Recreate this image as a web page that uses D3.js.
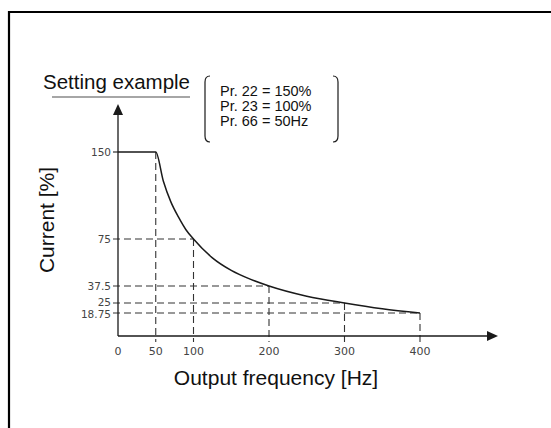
<!DOCTYPE html>
<html><head><meta charset="utf-8">
<script src="https://cdn.jsdelivr.net/npm/d3@7"></script>
<style>body{margin:0;background:#fff}svg{display:block}</style>
</head><body>
<script>
// Data
const freq = [0, 50, 60, 70, 80, 90, 100, 125, 150, 175, 200, 250, 300, 350, 400];
const current = [150, 150, 125, 107, 94, 83, 75, 60, 50, 43, 37.5, 30, 25, 21.4, 18.75];
const xTicks = [0, 50, 100, 200, 300, 400];
const yTicks = [150, 75, 37.5, 25, 18.75];
const guideFreq = [50, 100, 200, 300, 400];
const guideCurrent = [150, 75, 37.5, 25, 18.75];
const settings = ["Pr. 22 = 150%", "Pr. 23 = 100%", "Pr. 66 = 50Hz"];

const W = 551, H = 428;
const svg = d3.select("body").append("svg").attr("width", W).attr("height", H);
const font = "Liberation Sans, Arial, sans-serif";
const tickFont = "DejaVu Sans, sans-serif";
const ink = "#1a1a1a";

// frame
svg.append("path").attr("d", `M9,${H+5} L9,12 L${W+5},12`).attr("fill","none").attr("stroke","#000").attr("stroke-width",2.2);

const x = d3.scaleLinear().domain([0, 400]).range([118, 420]);
// schematic (non-uniform) vertical scale as drawn in the reference
const y = d3.scaleLinear().domain([0, 18.75, 25, 37.5, 75, 150]).range([336, 313, 303, 286, 239, 152]);
const axisY = y(0);

// guides
const gG = svg.append("g").attr("stroke", "#333").attr("stroke-width", 1.1).attr("stroke-dasharray", "7,4").attr("fill","none");
guideFreq.forEach((f, i) => {
  gG.append("line").attr("x1", x(f)).attr("x2", x(f)).attr("y1", y(guideCurrent[i])).attr("y2", axisY + 6);
  if (i > 0) gG.append("line").attr("x1", x(0) - 5).attr("x2", x(f)).attr("y1", y(guideCurrent[i])).attr("y2", y(guideCurrent[i]));
});
// solid tick for 150
svg.append("line").attr("x1", x(0)-5).attr("x2", x(0)).attr("y1", y(150)).attr("y2", y(150)).attr("stroke", ink).attr("stroke-width", 1.1);

// axes lines
svg.append("line").attr("x1", x(0)).attr("x2", 488).attr("y1", axisY).attr("y2", axisY).attr("stroke", ink).attr("stroke-width", 1.3);
svg.append("line").attr("x1", x(0)).attr("x2", x(0)).attr("y1", axisY).attr("y2", 113).attr("stroke", ink).attr("stroke-width", 1.3);
svg.append("path").attr("d", `M487,${axisY-5} L498,${axisY} L487,${axisY+5} Z`).attr("fill", ink);
svg.append("path").attr("d", `M${x(0)-5},115 L${x(0)},104 L${x(0)+5},115 Z`).attr("fill", ink);

// curve
const line = d3.line().x((d, i) => x(freq[i])).y((d, i) => y(current[i])).curve(d3.curveMonotoneX);
svg.append("path").datum(current).attr("d", line).attr("fill", "none").attr("stroke", ink).attr("stroke-width", 1.5);

// tick labels
svg.append("g").selectAll("text").data(xTicks).join("text")
  .attr("x", d => x(d)).attr("y", 355).attr("text-anchor", "middle")
  .attr("font-family", tickFont).attr("font-size", 11).attr("fill", "#444").text(d => d);

// y labels: nudge apart so tightly packed labels do not collide
const minGap = 12.5;
const ly = yTicks.map(v => y(v)).slice().sort((a, b) => a - b);
for (let k = 0; k < 20; k++) {
  for (let i = 1; i < ly.length; i++) {
    const d = ly[i] - ly[i-1];
    if (d < minGap) { const s = (minGap - d) / 2; ly[i-1] -= s; ly[i] += s; }
  }
}
const labelY = new Map(yTicks.map(v => [v, ly[yTicks.map(t => y(t)).sort((a,b)=>a-b).indexOf(y(v))]]));
svg.append("g").selectAll("text").data(yTicks).join("text")
  .attr("x", 111).attr("y", d => labelY.get(d)).attr("dy", "0.36em").attr("text-anchor", "end")
  .attr("font-family", tickFont).attr("font-size", 10.5).attr("fill", "#444").text(d => d);

// axis titles
svg.append("text").attr("x", 276).attr("y", 385).attr("text-anchor", "middle")
  .attr("font-family", font).attr("font-size", 21).attr("fill", "#111").text("Output frequency [Hz]");
svg.append("text").attr("transform", "translate(54,220) rotate(-90)").attr("text-anchor", "middle")
  .attr("font-family", font).attr("font-size", 21).attr("fill", "#111").text("Current [%]");

// setting example
svg.append("text").attr("x", 43).attr("y", 89).attr("font-family", font).attr("font-size", 20.5).attr("fill", "#111").text("Setting example");
svg.append("line").attr("x1", 52).attr("x2", 190).attr("y1", 97).attr("y2", 97).attr("stroke", "#888").attr("stroke-width", 1.6);

// bracket box
const bl = 205, br = 338, bt = 76, bb = 142;
svg.append("path").attr("d", `M${bl+5},${bt} Q${bl},${bt} ${bl},${bt+6} L${bl},${bb-6} Q${bl},${bb} ${bl+5},${bb}`)
  .attr("fill","none").attr("stroke", ink).attr("stroke-width", 1.2);
svg.append("path").attr("d", `M${br-5},${bt} Q${br},${bt} ${br},${bt+6} L${br},${bb-6} Q${br},${bb} ${br-5},${bb}`)
  .attr("fill","none").attr("stroke", ink).attr("stroke-width", 1.2);
svg.append("g").selectAll("text").data(settings).join("text")
  .attr("x", 220).attr("y", (d, i) => 96 + i * 15)
  .attr("font-family", font).attr("font-size", 14.5).attr("fill", "#111").text(d => d);
</script>
</body></html>
